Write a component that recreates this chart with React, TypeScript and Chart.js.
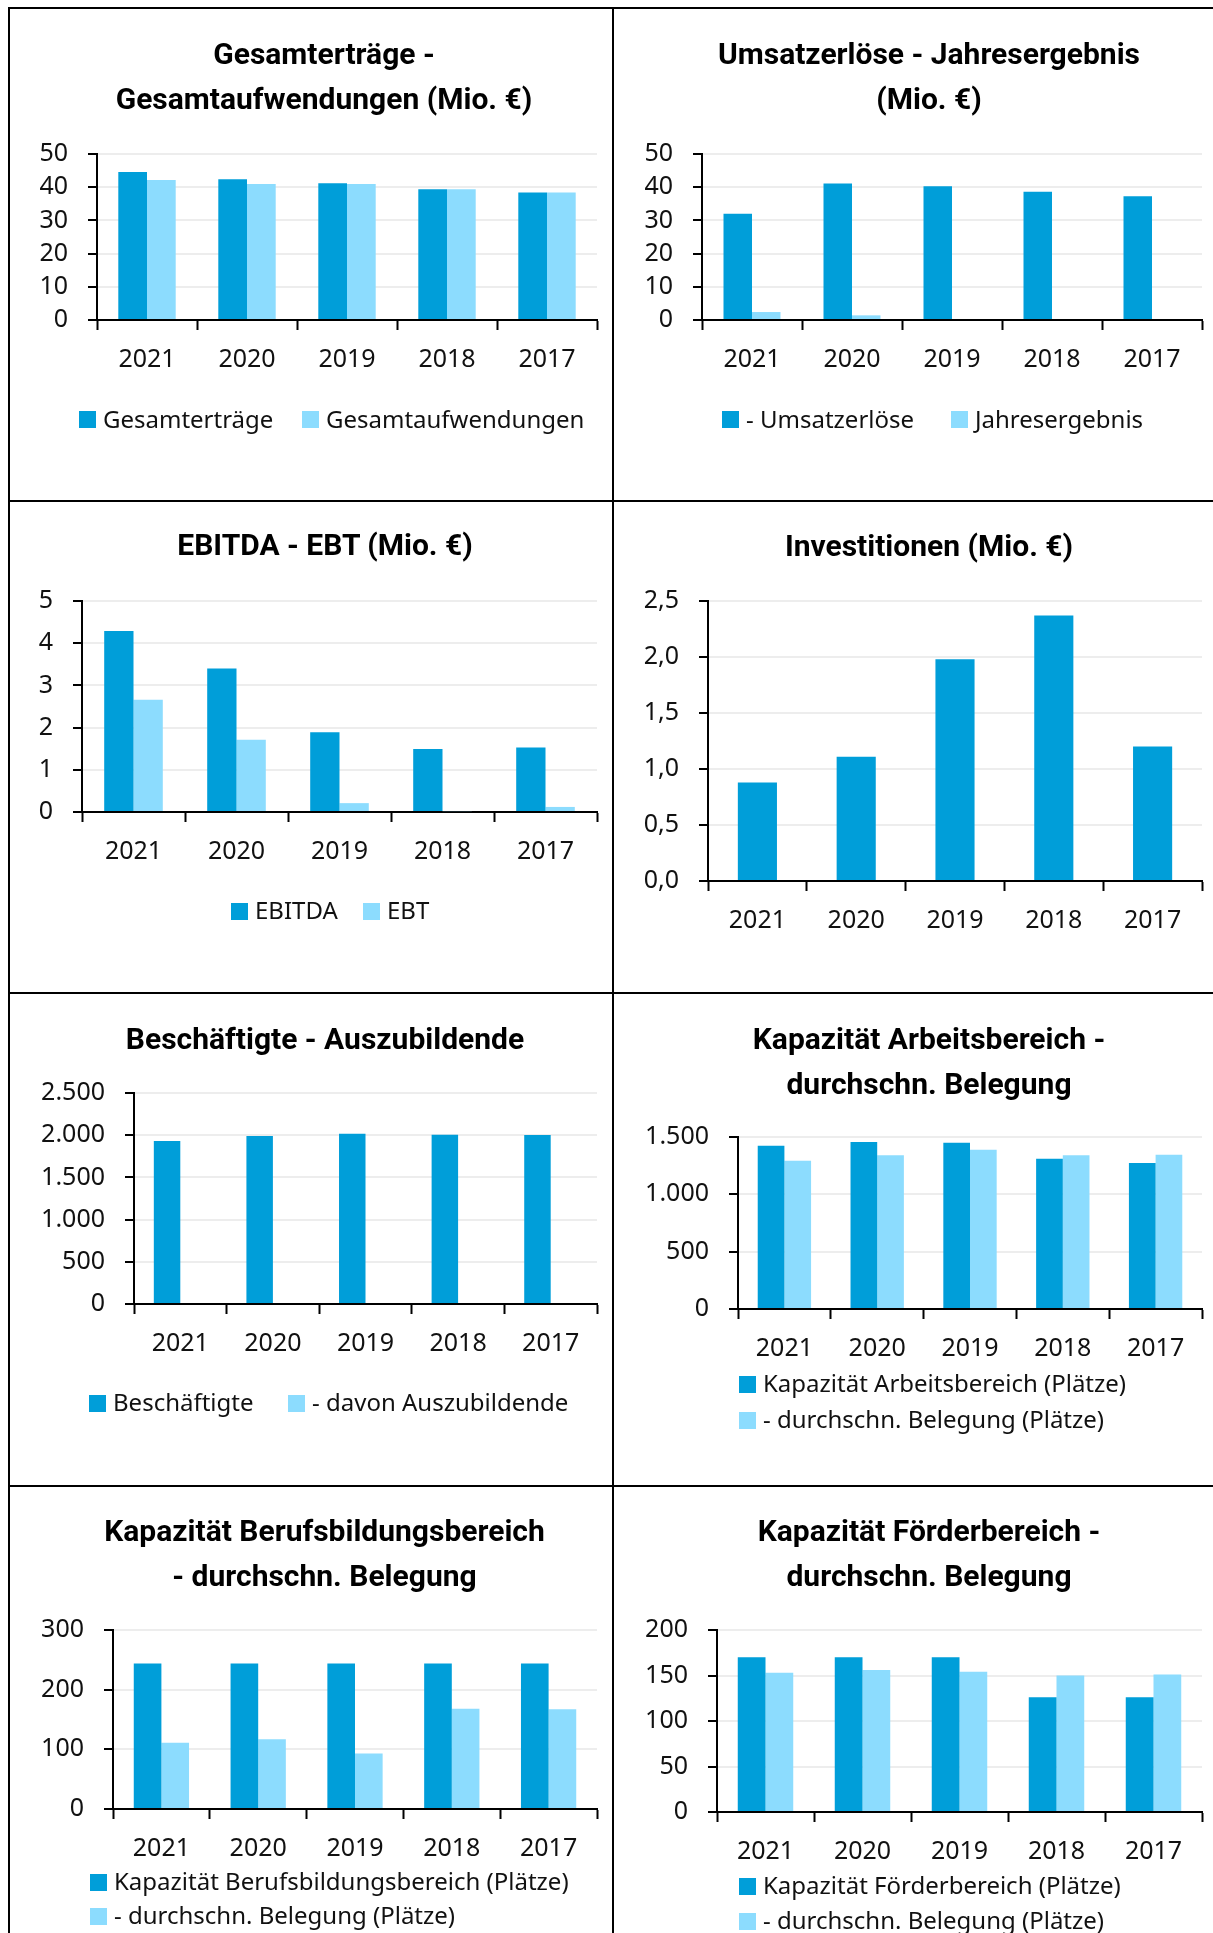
import React, { useEffect, useRef } from 'react';
import { Chart, registerables } from 'chart.js';

Chart.register(...registerables);

// ---------- data ----------
const years = ['2021', '2020', '2019', '2018', '2017'];

const gesamtertraege = [44.6, 42.4, 41.2, 39.4, 38.4];
const gesamtaufwendungen = [42.2, 41.0, 41.0, 39.4, 38.4];

const umsatzerloese = [32.0, 41.1, 40.3, 38.6, 37.3];
const jahresergebnis = [2.4, 1.4, 0, 0, 0];

const ebitda = [4.29, 3.4, 1.89, 1.49, 1.53];
const ebt = [2.66, 1.71, 0.21, 0.02, 0.12];

const investitionen = [0.88, 1.11, 1.98, 2.37, 1.2];

const beschaeftigte = [1930, 1990, 2017, 2006, 2002];
const auszubildende = [0, 0, 0, 0, 0];

const kapArbeit = [1424, 1456, 1450, 1311, 1273];
const belegArbeit = [1293, 1340, 1389, 1340, 1346];

const kapBerufsbildung = [244, 244, 244, 244, 244];
const belegBerufsbildung = [111, 117, 93, 168, 167];

const kapFoerder = [170, 170, 170, 126, 126];
const belegFoerder = [153, 156, 154, 150, 151];

const ticksMio50 = [0, 10, 20, 30, 40, 50];
const ticksMio5 = [0, 1, 2, 3, 4, 5];
const ticksInvest = [0, 0.5, 1, 1.5, 2, 2.5];
const ticksBesch = [0, 500, 1000, 1500, 2000, 2500];
const ticksArbeit = [0, 500, 1000, 1500];
const ticksBeruf = [0, 100, 200, 300];
const ticksFoerder = [0, 50, 100, 150, 200];

// ---------- styles ----------
const DARK = '#009ed9';
const LIGHT = '#8cdcfe';
const TICK_FONT = "'Noto Sans', 'DejaVu Sans', sans-serif";
const LEGEND_FONT = "'Noto Sans', 'DejaVu Sans', sans-serif";
const TITLE_FONT = "Roboto, 'Noto Sans', sans-serif";

function fmt(v: number, dec: number): string {
  const neg = v < 0;
  const abs = Math.abs(v);
  const fixed = abs.toFixed(dec);
  let [intPart, decPart] = fixed.split('.');
  intPart = intPart.replace(/\B(?=(\d{3})+(?!\d))/g, '.');
  return (neg ? '-' : '') + intPart + (decPart ? ',' + decPart : '');
}

type Series = { label: string; data: number[]; color: string };
type PanelCfg = {
  px: number; py: number;
  title: string[]; titleCx: number; titleY: number;
  series: Series[];
  yTicks: number[]; dec: number;
  plot: { L: number; R: number; T: number; B: number };
  catPct: number;
  legend: { x: number; y: number }[];
};

const panels: PanelCfg[] = [
  {
    px: 8, py: 7,
    title: ['Gesamterträge -', 'Gesamtaufwendungen (Mio. €)'], titleCx: 324, titleY: 53,
    series: [
      { label: 'Gesamterträge', data: gesamtertraege, color: DARK },
      { label: 'Gesamtaufwendungen', data: gesamtaufwendungen, color: LIGHT },
    ],
    yTicks: ticksMio50, dec: 0,
    plot: { L: 97, R: 597, T: 154, B: 320 }, catPct: 0.574,
    legend: [{ x: 79, y: 420.5 }, { x: 302, y: 420.5 }],
  },
  {
    px: 612, py: 7,
    title: ['Umsatzerlöse - Jahresergebnis', '(Mio. €)'], titleCx: 929, titleY: 53,
    series: [
      { label: '- Umsatzerlöse', data: umsatzerloese, color: DARK },
      { label: 'Jahresergebnis', data: jahresergebnis, color: LIGHT },
    ],
    yTicks: ticksMio50, dec: 0,
    plot: { L: 702, R: 1202, T: 154, B: 320 }, catPct: 0.57,
    legend: [{ x: 722, y: 420.5 }, { x: 951, y: 420.5 }],
  },
  {
    px: 8, py: 500,
    title: ['EBITDA - EBT (Mio. €)'], titleCx: 325, titleY: 544,
    series: [
      { label: 'EBITDA', data: ebitda, color: DARK },
      { label: 'EBT', data: ebt, color: LIGHT },
    ],
    yTicks: ticksMio5, dec: 0,
    plot: { L: 82, R: 597, T: 601, B: 812 }, catPct: 0.569,
    legend: [{ x: 231, y: 912 }, { x: 363, y: 912 }],
  },
  {
    px: 612, py: 500,
    title: ['Investitionen (Mio. €)'], titleCx: 929, titleY: 545,
    series: [{ label: 'Investitionen', data: investitionen, color: DARK }],
    yTicks: ticksInvest, dec: 1,
    plot: { L: 708, R: 1202, T: 601, B: 881 }, catPct: 0.396,
    legend: [],
  },
  {
    px: 8, py: 992,
    title: ['Beschäftigte - Auszubildende'], titleCx: 325, titleY: 1038,
    series: [
      { label: 'Beschäftigte', data: beschaeftigte, color: DARK },
      { label: '- davon Auszubildende', data: auszubildende, color: LIGHT },
    ],
    yTicks: ticksBesch, dec: 0,
    plot: { L: 134, R: 597, T: 1093, B: 1304 }, catPct: 0.572,
    legend: [{ x: 89, y: 1404 }, { x: 288, y: 1404 }],
  },
  {
    px: 612, py: 992,
    title: ['Kapazität Arbeitsbereich -', 'durchschn. Belegung'], titleCx: 929, titleY: 1038,
    series: [
      { label: 'Kapazität Arbeitsbereich (Plätze)', data: kapArbeit, color: DARK },
      { label: '- durchschn. Belegung (Plätze)', data: belegArbeit, color: LIGHT },
    ],
    yTicks: ticksArbeit, dec: 0,
    plot: { L: 738, R: 1202, T: 1137, B: 1309 }, catPct: 0.575,
    legend: [{ x: 739, y: 1385 }, { x: 739, y: 1421 }],
  },
  {
    px: 8, py: 1485,
    title: ['Kapazität Berufsbildungsbereich', '- durchschn. Belegung'], titleCx: 324.5, titleY: 1530,
    series: [
      { label: 'Kapazität Berufsbildungsbereich (Plätze)', data: kapBerufsbildung, color: DARK },
      { label: '- durchschn. Belegung (Plätze)', data: belegBerufsbildung, color: LIGHT },
    ],
    yTicks: ticksBeruf, dec: 0,
    plot: { L: 113, R: 597, T: 1630, B: 1809 }, catPct: 0.571,
    legend: [{ x: 90, y: 1883 }, { x: 90, y: 1917 }],
  },
  {
    px: 612, py: 1485,
    title: ['Kapazität Förderbereich -', 'durchschn. Belegung'], titleCx: 929, titleY: 1530,
    series: [
      { label: 'Kapazität Förderbereich (Plätze)', data: kapFoerder, color: DARK },
      { label: '- durchschn. Belegung (Plätze)', data: belegFoerder, color: LIGHT },
    ],
    yTicks: ticksFoerder, dec: 0,
    plot: { L: 717, R: 1202, T: 1630, B: 1812 }, catPct: 0.572,
    legend: [{ x: 739, y: 1887 }, { x: 739, y: 1922 }],
  },
];

const CW = 600;
const CH = 489;

function Panel({ cfg }: { cfg: PanelCfg }) {
  const ref = useRef<HTMLCanvasElement>(null);
  const cl = cfg.px + 2;
  const ct = cfg.py + 2;

  useEffect(() => {
    if (!ref.current) return;
    const { L, R, T, B } = cfg.plot;
    const yTicks = cfg.yTicks;
    const chart = new Chart(ref.current, {
      type: 'bar',
      data: {
        labels: years,
        datasets: cfg.series.map((s) => ({
          label: s.label,
          data: s.data,
          backgroundColor: s.color,
          borderWidth: 0,
          categoryPercentage: cfg.catPct,
          barPercentage: 1,
        })),
      },
      options: {
        animation: false,
        responsive: false,
        maintainAspectRatio: false,
        events: [],
        layout: { padding: { left: 0, top: T - ct, right: cl + CW - R, bottom: 0 } },
        plugins: {
          legend: { display: false },
          title: { display: false },
          tooltip: { enabled: false },
        },
        scales: {
          x: {
            z: 1,
            offset: true,
            grid: {
              display: true,
              drawOnChartArea: false,
              drawTicks: true,
              tickLength: 10,
              tickWidth: 2,
              tickColor: '#000',
              offset: true,
            },
            border: { display: true, color: '#000', width: 2 },
            ticks: {
              font: { family: TICK_FONT, size: 25 },
              color: '#111',
              padding: 15,
              maxRotation: 0,
              autoSkip: false,
            },
            afterFit: (s: any) => { s.height = ct + CH - B; },
          },
          y: {
            min: yTicks[0],
            max: yTicks[yTicks.length - 1],
            afterBuildTicks: (s: any) => { s.ticks = yTicks.map((v) => ({ value: v })); },
            grid: {
              color: (c: any) => (c.tick && c.tick.value === yTicks[0] ? 'rgba(0,0,0,0)' : '#ededed'),
              lineWidth: 2,
              drawTicks: true,
              tickLength: 9,
              tickWidth: 2,
              tickColor: '#000',
            },
            border: { display: true, color: '#000', width: 2 },
            ticks: {
              font: { family: TICK_FONT, size: 25 },
              color: '#111',
              padding: 20,
              callback: (v: any) => fmt(Number(v), cfg.dec),
            },
            afterFit: (s: any) => { s.width = L - cl; },
          },
        },
      },
    } as any);
    return () => chart.destroy();
  }, []);

  return (
    <>
      <div
        style={{
          position: 'absolute', left: cfg.px, top: cfg.py, width: 620, height: 520,
          borderTop: '2px solid #000', borderLeft: '2px solid #000', boxSizing: 'border-box',
        }}
      />
      <canvas
        ref={ref}
        width={CW}
        height={CH}
        style={{ position: 'absolute', left: cl, top: ct, width: CW, height: CH }}
      />
      {cfg.title.map((line, i) => (
        <div
          key={'t' + i}
          style={{
            position: 'absolute', left: cfg.titleCx - 300, width: 600,
            top: cfg.titleY + i * 45 - 22.5, height: 45, lineHeight: '45px',
            textAlign: 'center', fontFamily: TITLE_FONT, fontWeight: 700, fontSize: 30,
            color: '#000', whiteSpace: 'nowrap',
          }}
        >
          {line}
        </div>
      ))}
      {cfg.legend.map((pos, i) => (
        <div
          key={'l' + i}
          style={{
            position: 'absolute', left: pos.x, top: pos.y - 19, height: 34,
            display: 'flex', alignItems: 'center', whiteSpace: 'nowrap',
          }}
        >
          <span style={{ display: 'inline-block', width: 17, height: 17, background: cfg.series[i].color, marginRight: 7, position: 'relative', top: 1 }} />
          <span style={{ fontFamily: LEGEND_FONT, fontSize: 24, lineHeight: '34px', color: '#111' }}>
            {cfg.series[i].label}
          </span>
        </div>
      ))}
    </>
  );
}

export default function App() {
  return (
    <div
      style={{
        position: 'absolute', left: 0, top: 0, width: 1213, height: 1933,
        overflow: 'hidden', background: '#fff',
      }}
    >
      {panels.map((p, i) => (
        <Panel key={i} cfg={p} />
      ))}
    </div>
  );
}
